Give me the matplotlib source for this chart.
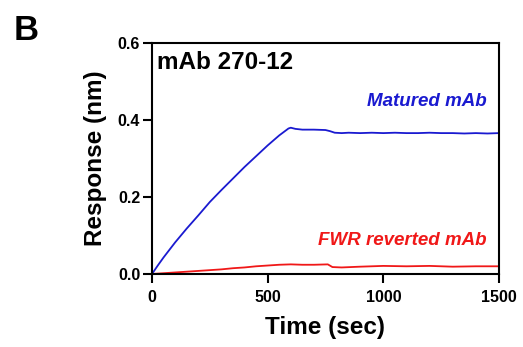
import matplotlib
matplotlib.use("Agg")
import matplotlib.pyplot as plt

plt.rcParams['font.family'] = ['Liberation Sans', 'DejaVu Sans']
plt.rcParams['font.weight'] = 'bold'

# time points (sec) and responses (nm)
t_matured = [0, 25, 50, 100, 150, 200, 250, 300, 350, 400, 450, 500, 550, 590,
             600, 620, 650, 700, 750, 770, 790, 820, 850, 900, 950, 1000, 1050,
             1100, 1150, 1200, 1250, 1300, 1350, 1400, 1450, 1500]
r_matured = [0.0, 0.022, 0.043, 0.082, 0.118, 0.152, 0.187, 0.218, 0.248, 0.278,
             0.306, 0.334, 0.360, 0.378, 0.380, 0.377, 0.375, 0.375, 0.374, 0.371,
             0.367, 0.366, 0.367, 0.366, 0.367, 0.366, 0.367, 0.366, 0.366, 0.367,
             0.366, 0.366, 0.365, 0.366, 0.365, 0.366]

t_reverted = [0, 50, 100, 150, 200, 250, 300, 350, 400, 450, 500, 550, 600, 650,
              700, 760, 780, 820, 900, 1000, 1100, 1200, 1300, 1400, 1500]
r_reverted = [0.0, 0.002, 0.004, 0.006, 0.008, 0.010, 0.012, 0.015, 0.017, 0.020,
              0.022, 0.024, 0.025, 0.024, 0.024, 0.025, 0.018, 0.017, 0.019, 0.021,
              0.020, 0.021, 0.019, 0.020, 0.020]

blue = '#1a1ad0'
red = '#f01818'

fig = plt.figure(figsize=(5.23, 3.47), dpi=100)
ax = fig.add_axes([0.2906, 0.2104, 0.6635, 0.6656])

ax.plot(t_matured, r_matured, color=blue, lw=1.3)
ax.plot(t_reverted, r_reverted, color=red, lw=1.3)

ax.set_xlim(0, 1500)
ax.set_ylim(0, 0.6)
ax.set_xticks([0, 500, 1000, 1500])
ax.set_yticks([0.0, 0.2, 0.4, 0.6])
ax.set_yticklabels(['0.0', '0.2', '0.4', '0.6'])
ax.tick_params(direction='out', length=6.5, width=1.5, labelsize=11.5)
ax.tick_params(axis='x', pad=5)
ax.tick_params(axis='y', pad=2)
for s in ax.spines.values():
    s.set_linewidth(1.5)

ax.set_xlabel('Time (sec)', fontsize=17.5, fontweight='bold', labelpad=8)
ax.set_ylabel('Response (nm)', fontsize=17.5, fontweight='bold', labelpad=8)

ax.text(0.015, 0.965, 'mAb 270-12', transform=ax.transAxes, fontsize=17.5,
        fontweight='bold', va='top', ha='left')
ax.text(0.965, 0.745, 'Matured mAb', transform=ax.transAxes, fontsize=13.5,
        fontweight='bold', style='italic', color=blue, ha='right', va='center')
ax.text(0.965, 0.145, 'FWR reverted mAb', transform=ax.transAxes, fontsize=13.5,
        fontweight='bold', style='italic', color=red, ha='right', va='center')

fig.text(0.027, 0.912, 'B', fontsize=25, fontweight='bold', va='center', ha='left')

fig.savefig('out.png', dpi=100)
